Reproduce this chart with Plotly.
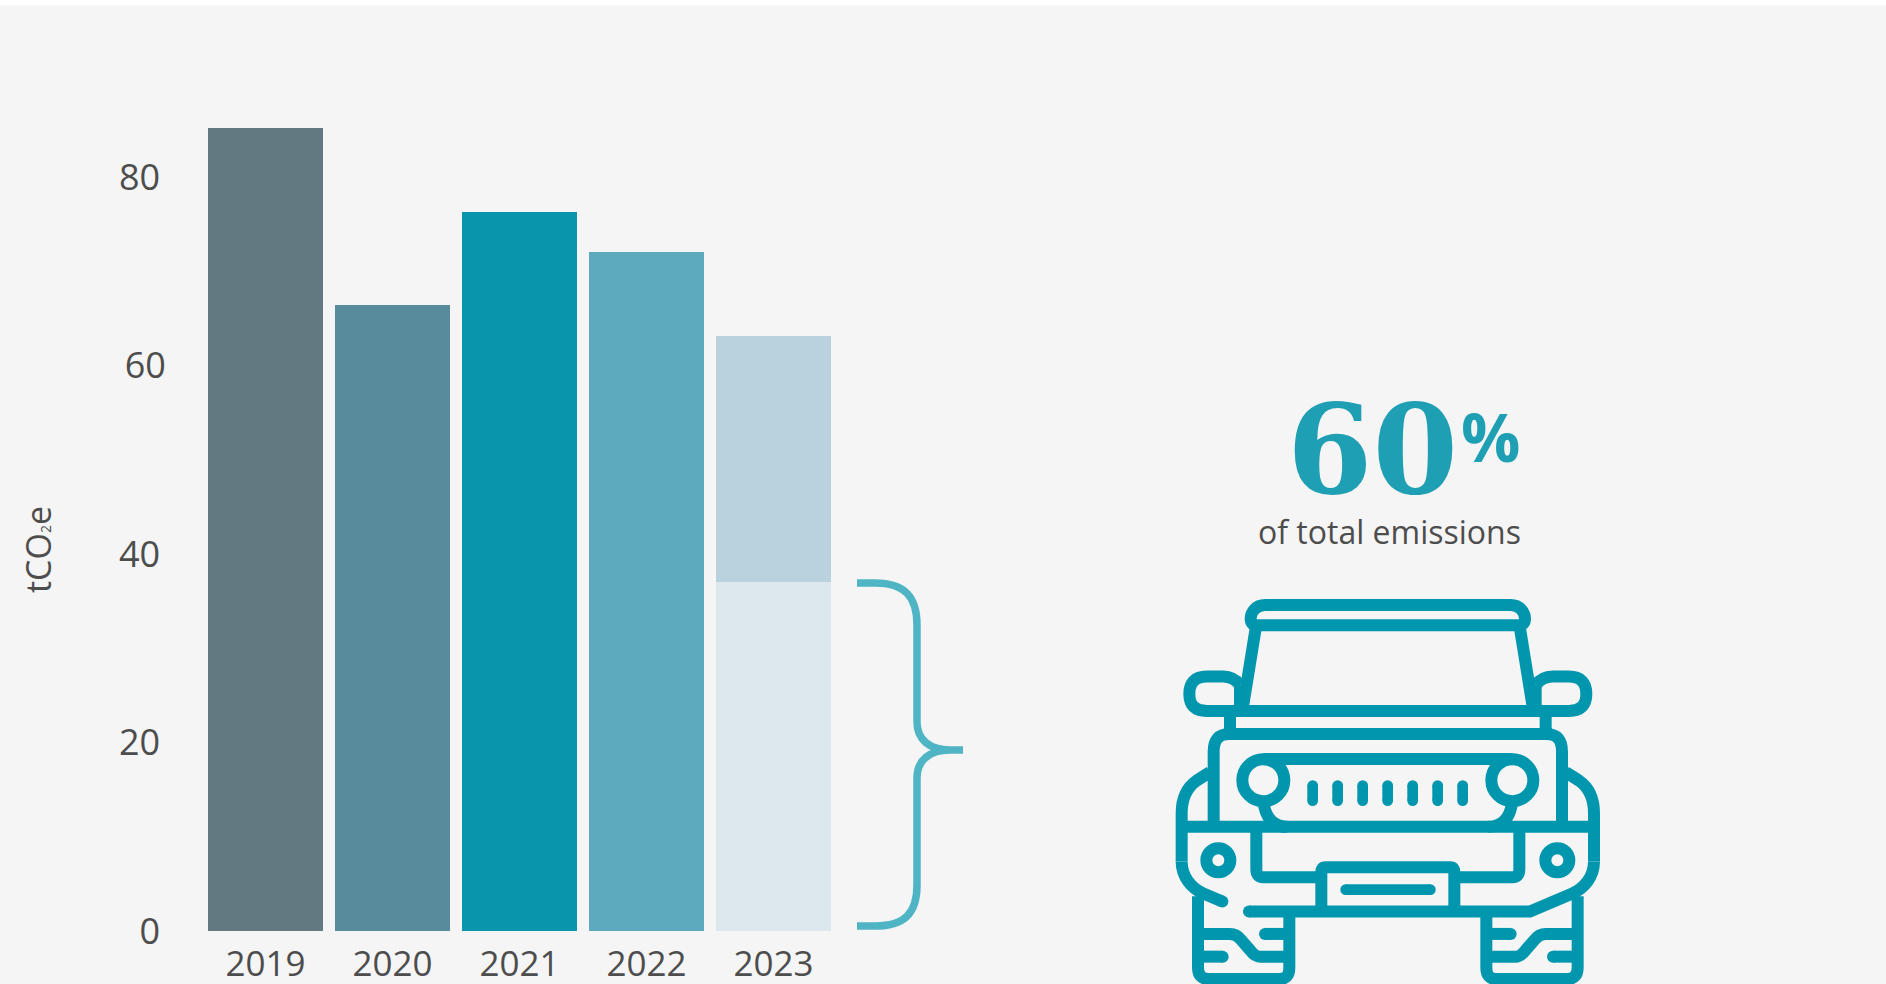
import re
import plotly.graph_objects as go

W, H = 1886, 984
ML, MR, MT, MB = 202, 1049, 83, 53

years = ["2019", "2020", "2021", "2022", "2023"]
base_values = [85.2, 66.4, 76.3, 72.1, 37.05]
top_values = [0, 0, 0, 0, 26.15]
base_colors = ["#627982", "#588B9B", "#0996AC", "#5DA9BD", "#DDE8EE"]
top_colors = ["#B9D2DE"] * 5
y_ticks = [0, 20, 40, 60, 80]
y_labels = ["0", "20", "40", "60", "80"]
y_shift = [True, True, True, False, True]

TEXT = "#4D4D4D"
JEEP = "#0096AE"
BRACE = "#4FB5C5"
BIG = "#1F9FB3"
SANS = "Open Sans"


def px(x):
    return (x - ML) / (W - ML - MR)


def py(y):
    return (H - MB - y) / (H - MT - MB)


def zx(x):
    return 1150 + x / 3


def zy(y):
    return 380 + y * 604 / 1568


def path_px(d):
    return re.sub(r"(-?[\d.]+),(-?[\d.]+)",
                  lambda m: f"{px(float(m[1])):.5f},{py(float(m[2])):.5f}", d)


def path_z(d):
    return re.sub(r"(-?[\d.]+),(-?[\d.]+)",
                  lambda m: f"{px(zx(float(m[1]))):.5f},{py(zy(float(m[2]))):.5f}", d)


def mirror(d):
    return re.sub(r"(-?[\d.]+),(-?[\d.]+)",
                  lambda m: f"{1427 - float(m[1])},{m[2]}", d)


shapes = []


def stroke(d, width=12):
    shapes.append(dict(type="path", xref="paper", yref="paper", path=path_z(d),
                       line=dict(color=JEEP, width=width), fillcolor="rgba(0,0,0,0)"))


def ring(x, y, r, width=12, fill=False):
    cx, cy = zx(x), zy(y)
    shapes.append(dict(type="circle", xref="paper", yref="paper",
                       x0=px(cx - r), x1=px(cx + r), y0=py(cy + r), y1=py(cy - r),
                       line=dict(color=JEEP, width=width),
                       fillcolor=JEEP if fill else "rgba(0,0,0,0)"))


def cap(x, y, r=6):
    cx, cy = zx(x), zy(y)
    shapes.append(dict(type="circle", xref="paper", yref="paper",
                       x0=px(cx - r), x1=px(cx + r), y0=py(cy + r), y1=py(cy - r),
                       line=dict(width=0), fillcolor=JEEP))


# top white band
shapes.append(dict(type="rect", xref="paper", yref="paper",
                   x0=px(0), x1=px(W), y0=py(5.5), y1=py(0),
                   line=dict(width=0), fillcolor="#FFFFFF"))

# brace
shapes.append(dict(type="path", xref="paper", yref="paper",
                   path=path_px("M857,583 L875,583 C905,583 917,597 917,625 L917,722 "
                                "C917,740 930,750 950,750 L963,750 L950,750 "
                                "C930,750 917,760 917,778 L917,885 "
                                "C917,913 905,926 875,926 L857,926"),
                   line=dict(color=BRACE, width=7.5), fillcolor="rgba(0,0,0,0)"))

# jeep: roof rack
stroke("M345,584 L1082,584 C1110,584 1125,603 1125,620 Q1125,637 1105,637 L322,637 "
       "Q302,637 302,620 C302,603 317,584 345,584 Z")
# windshield and base line
for m in (lambda d: d, mirror):
    stroke(m("M317,645 L277,859"))
    stroke(m("M270,859 L170,859 Q118,859 118,815 Q118,770 170,770 L220,770 Q250,770 270,792"))
    stroke(m("M270,792 L270,859"))
    stroke(m("M240,859 L240,919"))
    stroke(m("M342,1105 Q355,1160 412,1160"))
    stroke(m("M319,1160 L319,1270 Q319,1291 340,1291 L515,1291"))
    stroke(m("M180,1018 L140,1040 C110,1058 95,1085 95,1125 L95,1250"))
    # tyres
    stroke(m("M144,1340 L144,1525 Q144,1555 175,1555 L390,1555 Q418,1555 418,1525 L418,1380"))
    stroke(m("M150,1438 L240,1438 Q260,1438 272,1452 L300,1480 Q315,1497 330,1497 L405,1497"))
    stroke(m("M345,1438 L405,1438"))
    cap(*[float(v) for v in m("345,1438").split(",")])
    stroke(m("M150,1497 L218,1497"))
    cap(*[float(v) for v in m("218,1497").split(",")])
stroke("M170,859 L1257,859")
stroke("M222,919 L1205,919")
# bonnet
stroke("M191,1160 L191,965 Q191,919 237,919 L1190,919 Q1236,919 1236,965 L1236,1160")
# grille
stroke("M340,984 L1087,984")
stroke("M95,1160 L1332,1160")
ring(340, 1039, 21)
ring(1087, 1039, 21)
for sx in (488, 563, 638, 713, 788, 863, 938):
    stroke(f"M{sx},1053 L{sx},1092", width=10.7)
    cap(sx, 1053, 5.35)
    cap(sx, 1092, 5.35)
# fog lights
ring(205, 1247, 12)
ring(1222, 1247, 12)
# lower body
stroke("M95,1250 C95,1290 125,1320 160,1333 L217,1354")
cap(217, 1354)
stroke("M1332,1250 C1332,1290 1302,1320 1267,1333 L1140,1380 L297,1380")
cap(297, 1380)
# plate
stroke("M514,1380 L514,1277 Q514,1265 526,1265 L901,1265 Q913,1265 913,1277 L913,1380")
stroke("M587,1323 L841,1323", width=10.7)
cap(587, 1323, 5.35)
cap(841, 1323, 5.35)


def label(text, x, y, size, color=TEXT, family=SANS, angle=0):
    return dict(text=text, xref="paper", yref="paper", x=px(x), y=py(y),
                xanchor="center", yanchor="middle", showarrow=False, textangle=angle,
                font=dict(family=family, size=size, color=color))


annotations = [
    label('tCO<span style="font-size:14px">2</span>e', 38, 550, 34, angle=-90),
    label("<b>60</b>", 1372, 450, 123, BIG, "DejaVu Serif"),
    label("<b>%</b>", 1490, 436, 66, BIG),
    label("of total emissions", 1389, 531, 32),
]

fig = go.Figure()
fig.add_trace(go.Bar(x=years, y=base_values, marker=dict(color=base_colors, line=dict(width=0)),
                     showlegend=False))
fig.add_trace(go.Bar(x=years, y=top_values, marker=dict(color=top_colors, line=dict(width=0)),
                     showlegend=False))

spacer = '<span style="font-size:22px">&nbsp;</span>'
fig.update_layout(
    width=W, height=H,
    margin=dict(l=ML, r=MR, t=MT, b=MB, pad=0, autoexpand=False),
    paper_bgcolor="#F5F5F5", plot_bgcolor="rgba(0,0,0,0)",
    barmode="stack", bargap=12 / 127,
    shapes=shapes, annotations=annotations,
    font=dict(family=SANS, color=TEXT, size=35),
    xaxis=dict(type="category", range=[-0.5, 4.5], showgrid=False, zeroline=False, showline=False,
               automargin=False,
               ticks="outside", ticklen=2, tickcolor="rgba(0,0,0,0)",
               tickfont=dict(family=SANS, size=35, color=TEXT)),
    yaxis=dict(range=[0, 90], showgrid=False, zeroline=False, showline=False,
               automargin=False,
               tickmode="array", tickvals=y_ticks,
               ticktext=[t + spacer if s else t for t, s in zip(y_labels, y_shift)],
               ticks="outside", ticklen=28, tickcolor="rgba(0,0,0,0)",
               tickfont=dict(family=SANS, size=36, color=TEXT)),
)

fig.write_html("out.html", config=dict(displayModeBar=False),
               post_script="document.body.style.margin='0';document.body.style.overflow='hidden';")
